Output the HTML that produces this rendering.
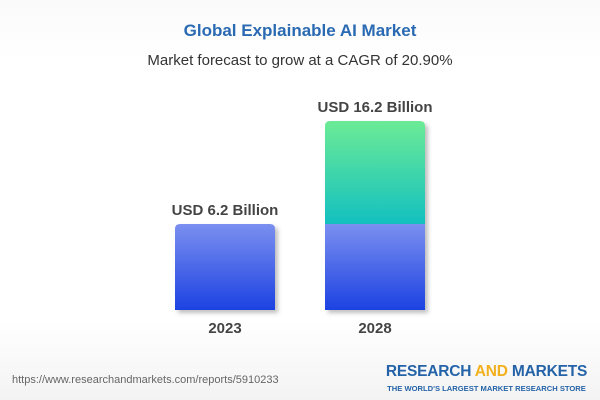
<!DOCTYPE html>
<html><head><meta charset="utf-8">
<style>
body{margin:0;width:600px;height:400px;overflow:hidden;font-family:"Liberation Sans",Arial,sans-serif;background:linear-gradient(#fafafa,#fff 15%,#fff 80%,#f3f3f3);position:relative}
.t{position:absolute;left:0;width:600px;text-align:center}
</style></head><body>
<div class="t" style="top:21px;font-size:17px;font-weight:bold;color:#2a6ab3">Global Explainable AI Market</div>
<div class="t" style="top:52px;font-size:15px;color:#333">Market forecast to grow at a CAGR of 20.90%</div>
<svg id="c" width="600" height="400" style="position:absolute;left:0;top:0">
<defs>
<linearGradient id="gb" x1="0" y1="0" x2="0" y2="1"><stop offset="0" stop-color="#7b8ff0"/><stop offset="1" stop-color="#1c42e2"/></linearGradient>
<linearGradient id="gg" x1="0" y1="0" x2="0" y2="1"><stop offset="0" stop-color="#6ceb96"/><stop offset="1" stop-color="#13c0c0"/></linearGradient>
<filter id="sh"><feDropShadow dx="3" dy="3" stdDeviation="2" flood-color="#000" flood-opacity="0.25"/></filter>
</defs>
</svg>
<div style="position:absolute;left:12px;top:374px;font-size:11px;color:#666">https://www.researchandmarkets.com/reports/5910233</div>
<div style="position:absolute;left:383px;top:363px;width:207px;text-align:center;white-space:nowrap">
<div style="font-size:15.5px;font-weight:bold;color:#2563a8;letter-spacing:-0.2px">RESEARCH <span style="color:#f2b01e">AND</span> MARKETS</div>
<div style="font-size:7.6px;font-weight:bold;color:#2563a8;margin-top:3px">THE WORLD'S LARGEST MARKET RESEARCH STORE</div>
</div>
<script>
const categories=["2023","2028"];
const values=[6.2,16.2];
const labels=["USD 6.2 Billion","USD 16.2 Billion"];
const svg=document.getElementById('c');
const NS='http://www.w3.org/2000/svg';
const base=310, xs=[175,325], w=100;
function h(v){return 22.1+10.3*v;}
function mk(t,a){const e=document.createElementNS(NS,t);for(const k in a)e.setAttribute(k,a[k]);svg.appendChild(e);return e;}
const h0=h(values[0]);
categories.forEach((c,i)=>{
  const x=xs[i], hh=h(values[i]), top=base-hh;
  if(i===0){
    const r=mk('path',{d:`M${x} ${base}V${top+5}q0-5 5-5H${x+w-5}q5 0 5 5V${base}Z`,fill:'url(#gb)',filter:'url(#sh)'});
    
    
  }else{
    const g=mk('path',{d:`M${x} ${base-h0}V${top+5}q0-5 5-5H${x+w-5}q5 0 5 5V${base-h0}Z`,fill:'url(#gg)',filter:'url(#sh)'});
    
    
    const b=mk('rect',{x:x,y:base-h0,width:w,height:h0,fill:'url(#gb)',filter:'url(#sh)'});
    
    
  }
  const l=mk('text',{x:x+w/2,y:top-9,'text-anchor':'middle','font-size':15,'font-weight':'bold',fill:'#444'});
  l.textContent=labels[i];
  
  
  const t=mk('text',{x:x+w/2,y:333,'text-anchor':'middle','font-size':15,'font-weight':'bold',fill:'#444'});
  t.textContent=c;
  
  
});
</script>
</body></html>
